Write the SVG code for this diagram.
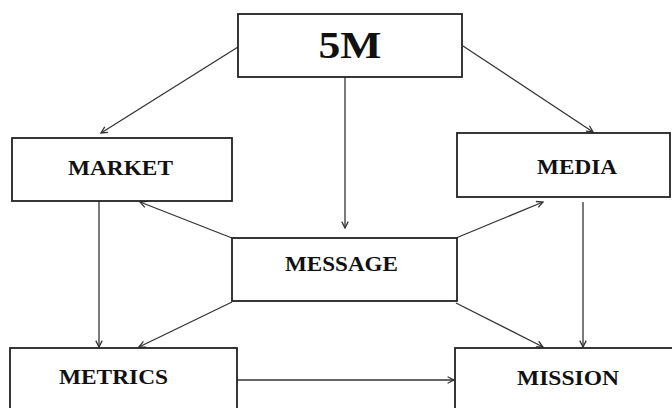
<svg xmlns="http://www.w3.org/2000/svg" width="672" height="408" viewBox="0 0 672 408">
<style>
.box{fill:#fff;stroke:#222;stroke-width:1.8}
.lbl{font-family:"Liberation Serif","Times New Roman",serif;font-weight:bold;fill:#111;text-anchor:middle}
.c{stroke:#333;stroke-width:1.3;fill:none;marker-end:url(#ah)}
</style>
<defs>
<marker id="ah" viewBox="0 0 10 10" refX="9" refY="5" markerWidth="8" markerHeight="8" markerUnits="userSpaceOnUse" orient="auto">
<path d="M1,1 L9,5 L1,9" fill="none" stroke="#333" stroke-width="1.6"/>
</marker>
</defs>
<rect width="672" height="408" fill="#fff"/>
<g id="connectors">
<line class="c" x1="238" y1="47" x2="101" y2="133"/>
<line class="c" x1="345" y1="77" x2="345" y2="228"/>
<line class="c" x1="463" y1="46" x2="593" y2="132"/>
<line class="c" x1="232" y1="238" x2="140" y2="202"/>
<line class="c" x1="456" y1="238" x2="543" y2="202"/>
<line class="c" x1="232" y1="302" x2="139" y2="347"/>
<line class="c" x1="456" y1="303" x2="543" y2="347"/>
<line class="c" x1="99" y1="201" x2="99" y2="347"/>
<line class="c" x1="583" y1="202" x2="583" y2="347"/>
<line class="c" x1="237" y1="380" x2="454" y2="380"/>
</g>
<g id="n5m">
<rect class="box" x="238" y="14" width="224" height="63"/>
<text class="lbl" x="350" y="58" font-size="38" textLength="63" lengthAdjust="spacingAndGlyphs">5M</text>
</g>
<g id="market">
<rect class="box" x="12" y="138" width="220" height="63"/>
<text class="lbl" x="120.5" y="175" font-size="20" textLength="105" lengthAdjust="spacingAndGlyphs">MARKET</text>
</g>
<g id="media">
<rect class="box" x="457" y="133" width="213" height="64"/>
<text class="lbl" x="577" y="174" font-size="20" textLength="80" lengthAdjust="spacingAndGlyphs">MEDIA</text>
</g>
<g id="message">
<rect class="box" x="232" y="238" width="225" height="63"/>
<text class="lbl" x="341.5" y="271" font-size="20" textLength="113" lengthAdjust="spacingAndGlyphs">MESSAGE</text>
</g>
<g id="metrics">
<rect class="box" x="10" y="348" width="227" height="70"/>
<text class="lbl" x="113.5" y="384" font-size="20" textLength="109" lengthAdjust="spacingAndGlyphs">METRICS</text>
</g>
<g id="mission">
<rect class="box" x="455" y="348" width="225" height="70"/>
<text class="lbl" x="568" y="385" font-size="20" textLength="102" lengthAdjust="spacingAndGlyphs">MISSION</text>
</g>
</svg>
